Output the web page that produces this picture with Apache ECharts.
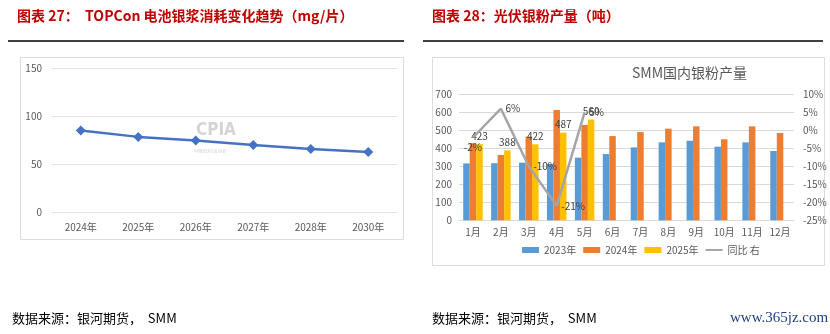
<!DOCTYPE html>
<html><head><meta charset="utf-8">
<script src="https://cdn.jsdelivr.net/npm/echarts@6/dist/echarts.min.js"></script>
<style>html,body{margin:0;padding:0;background:#fff;}#c{width:830px;height:334px;}</style>
</head><body><div id="c"></div>
<script>
// Left chart data
const yearCats = ['2024年','2025年','2026年','2027年','2028年','2030年'];
const silverPaste = [85, 78.5, 74.7, 70, 66, 62.7];
// Right chart data
const monthCats = ['1月','2月','3月','4月','5月','6月','7月','8月','9月','10月','11月','12月'];
const prod2023 = [316, 317, 320, 313, 348, 368, 405, 433, 442, 409, 433, 385];
const prod2024 = [428, 363, 465, 613, 530, 468, 490, 509, 522, 450, 522, 485];
const prod2025 = [423, 388, 422, 487, 560, null, null, null, null, null, null, null];
const yoy = [-2, 6, -10, -21, 5];

const FONT = '"Noto Sans CJK SC","Noto Sans",sans-serif';
const chart = echarts.init(document.getElementById('c'), null, {renderer:'canvas'});
const axisLbl = {color:'#595959', fontSize:10, fontFamily:FONT};

chart.setOption({
  animation:false,
  textStyle:{fontFamily:FONT},
  graphic:[
    {type:'text', left:17, top:9, style:{text:'图表 27：  TOPCon 电池银浆消耗变化趋势（mg/片）', fill:'#C00000', font:'bold 14px '+FONT}},
    {type:'text', left:432, top:9, style:{text:'图表 28：光伏银粉产量（吨）', fill:'#C00000', font:'bold 14px '+FONT}},
    {type:'line', shape:{x1:8,y1:41,x2:404,y2:41}, style:{stroke:'#000', lineWidth:1.5}},
    {type:'line', shape:{x1:423,y1:41,x2:823,y2:41}, style:{stroke:'#000', lineWidth:1.5}},
    {type:'rect', shape:{x:20.5,y:57.5,width:383,height:182}, style:{fill:'none', stroke:'#DCDCDC', lineWidth:1}, z:-1},
    {type:'rect', shape:{x:432.5,y:57.5,width:392,height:208}, style:{fill:'none', stroke:'#DCDCDC', lineWidth:1}, z:-1},
    {type:'text', left:196, top:122, style:{text:'CPIA', fill:'rgba(160,160,160,0.45)', font:'bold 17px "DejaVu Sans Condensed",sans-serif'}, z:0},
    {type:'text', left:194, top:149, style:{text:'中国光伏行业协会', fill:'rgba(150,150,150,0.5)', font:'4px '+FONT}, z:0},
    {type:'text', left:632, top:66, style:{text:'SMM国内银粉产量', fill:'#595959', font:'14px '+FONT, textAlign:'center'}},
    {type:'text', left:12, top:312, style:{text:'数据来源：银河期货，  SMM', fill:'#000', font:'13px "Noto Sans CJK SC","Liberation Serif",serif'}},
    {type:'text', left:432, top:312, style:{text:'数据来源：银河期货，  SMM', fill:'#000', font:'13px "Noto Sans CJK SC","Liberation Serif",serif'}},
    {type:'text', left:730, top:311, style:{text:'www.365jz.com', fill:'#1F3F8A', font:'15px "Liberation Serif",serif'}}
  ],
  legend:{
    left:522, top:245,
    data:[
      {name:'2023年', icon:'rect'},
      {name:'2024年', icon:'rect'},
      {name:'2025年', icon:'rect'},
      {name:'同比 右', icon:'path://M0,0L20,0L20,2.4L0,2.4Z', itemStyle:{color:'#A5A5A5'}}
    ],
    itemWidth:17, itemHeight:6, itemGap:7,
    textStyle:{color:'#595959', fontSize:10, fontFamily:FONT},
    padding:0
  },
  grid:[
    {left:52, top:68, width:345, height:144.5},
    {left:459, top:94.3, width:335, height:126}
  ],
  xAxis:[
    {type:'category', gridIndex:0, data:yearCats, axisLine:{show:false}, axisTick:{show:false}, axisLabel:Object.assign({margin:10}, axisLbl)},
    {type:'category', gridIndex:1, data:monthCats, axisLine:{show:true, lineStyle:{color:'#D9D9D9'}}, axisTick:{show:false}, axisLabel:Object.assign({margin:7}, axisLbl)}
  ],
  yAxis:[
    {type:'value', gridIndex:0, min:0, max:150, interval:50, axisLine:{show:false}, axisTick:{show:false}, axisLabel:Object.assign({margin:10}, axisLbl), splitLine:{lineStyle:{color:'#E3E3E3'}}},
    {type:'value', gridIndex:1, min:0, max:700, interval:100, axisLine:{show:false}, axisTick:{show:false}, axisLabel:Object.assign({margin:7}, axisLbl), splitLine:{lineStyle:{color:'#D9D9D9'}}},
    {type:'value', gridIndex:1, position:'right', min:-25, max:10, interval:5, axisLine:{show:false}, axisTick:{show:false}, axisLabel:Object.assign({margin:9, formatter:'{value}%'}, axisLbl), splitLine:{show:false}}
  ],
  series:[
    {type:'line', xAxisIndex:0, yAxisIndex:0, data:silverPaste, symbol:'diamond', symbolSize:10, lineStyle:{color:'#4472C4', width:2.5}, itemStyle:{color:'#4472C4'}},
    {name:'2023年', type:'bar', xAxisIndex:1, yAxisIndex:1, data:prod2023, barWidth:6.5, barGap:'0%', itemStyle:{color:'#5B9BD5'}},
    {name:'2024年', type:'bar', xAxisIndex:1, yAxisIndex:1, data:prod2024, barWidth:6.5, barGap:'0%', itemStyle:{color:'#ED7D31'}},
    {name:'2025年', type:'bar', xAxisIndex:1, yAxisIndex:1, data:prod2025, barWidth:6.5, barGap:'0%', itemStyle:{color:'#FFC000'},
      label:{show:true, position:'top', color:'#404040', fontSize:10, distance:3}},
    {name:'同比 右', type:'line', xAxisIndex:1, yAxisIndex:2, symbol:'circle', symbolSize:1, showSymbol:true, z:5,
      lineStyle:{color:'#A5A5A5', width:2.5}, itemStyle:{color:'#A5A5A5'},
      data:yoy.map((v,i)=>({value:v, label:{show:true, position: i===0 ? 'bottom' : 'right'}})),
      label:{show:true, formatter:'{c}%', color:'#404040', fontSize:10, distance:4}}
  ]
});
</script></body></html>
